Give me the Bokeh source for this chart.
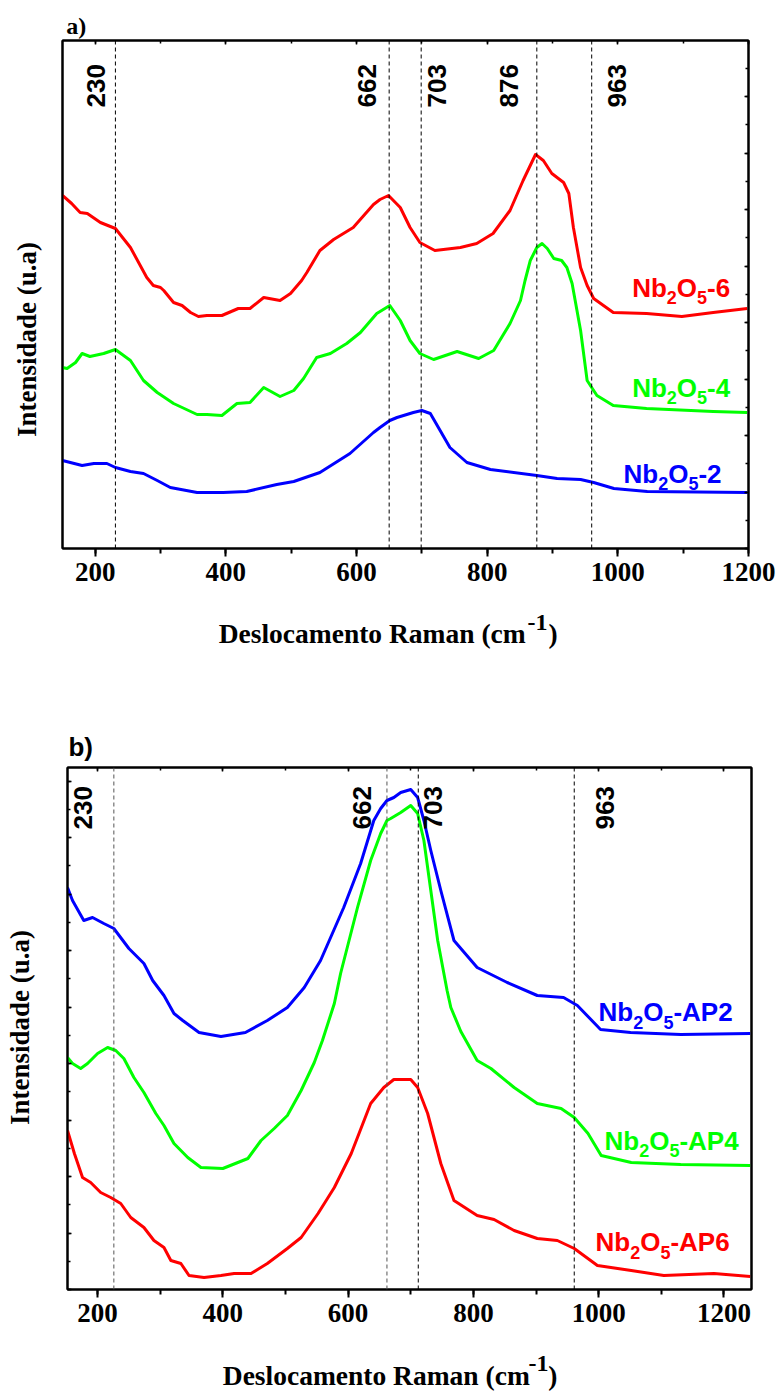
import math
from bokeh.plotting import figure
from bokeh.models import Range1d, LinearAxis, Span, Label, SingleIntervalTicker, FixedTicker
from bokeh.embed import file_html
from bokeh.resources import INLINE

# ---------------- data (panel a) ----------------
x_a6 = [150, 164, 177, 188, 208, 231, 254, 279, 289, 300, 305, 320, 333, 346, 358, 371, 394, 419, 437, 458,
        483, 499, 516, 524, 544, 565, 595, 626, 636, 649, 667, 682, 697, 720, 759, 784, 809, 835, 855, 874,
        886, 899, 917, 925, 932, 943, 953, 963, 993, 1044, 1098, 1146, 1198]
y_a6 = [353, 345, 336, 335, 326, 320, 301, 271, 263, 261, 258, 246, 243, 236, 232, 233, 233, 240, 240, 251,
        248, 255, 268, 276, 298, 309, 321, 344, 349, 353, 341, 321, 306, 298, 301, 305, 315, 338, 368, 394,
        388, 375, 366, 355, 321, 281, 263, 250, 236, 235, 232, 236, 240]

x_a4 = [150, 157, 170, 180, 192, 213, 231, 254, 274, 295, 320, 356, 371, 394, 417, 437, 458, 483, 504, 519,
        539, 560, 585, 606, 631, 651, 667, 682, 697, 718, 754, 787, 810, 835, 851, 858, 866, 876, 884, 892,
        902, 914, 922, 930, 943, 953, 968, 993, 1044, 1146, 1198]
y_a4 = [181, 180, 186, 195, 192, 195, 199, 188, 168, 156, 145, 134, 134, 133, 145, 146, 161, 152, 158, 170,
        191, 195, 205, 216, 235, 243, 228, 208, 195, 189, 197, 190, 198, 225, 248, 268, 288, 301, 305, 300,
        290, 288, 281, 265, 218, 168, 153, 143, 140, 137, 136]

x_a2 = [150, 180, 198, 218, 231, 254, 274, 295, 315, 356, 396, 432, 478, 504, 544, 590, 626, 636, 651, 662,
        687, 700, 713, 728, 743, 769, 805, 876, 907, 943, 963, 994, 1045, 1198]
y_a2 = [88, 83, 85, 85, 81, 77, 75, 68, 61, 56, 56, 57, 64, 67, 76, 95, 116, 121, 128, 131,
        136, 138, 135, 118, 101, 86, 79, 73, 70, 69, 66, 60, 57, 56]

peaks_a_pos = [231, 650, 699, 876, 960]
peaks_a_txt = ["230", "662", "703", "876", "963"]

# ---------------- data (panel b) ----------------
x_bAP2 = [152, 160, 178, 192, 210, 226, 250, 274, 288, 306, 322, 336, 362, 397, 436, 471, 503, 530, 556, 593,
          620, 641, 652, 662, 673, 684, 700, 711, 721, 732, 748, 769, 806, 854, 902, 944, 966, 1003, 1051,
          1131, 1242]
y_bAP2 = [402, 389, 369, 372, 366, 361, 341, 326, 309, 294, 276, 269, 257, 253, 257, 269, 282, 302, 329, 382,
          426, 469, 481, 489, 492, 497, 500, 492, 469, 439, 399, 349, 322, 307, 294, 292, 284, 260, 257,
          255, 256]

x_bAP4 = [152, 160, 173, 184, 200, 216, 229, 242, 258, 274, 293, 306, 322, 344, 365, 400, 440, 461, 482, 503,
          525, 546, 559, 578, 588, 615, 636, 652, 662, 668, 684, 700, 711, 721, 732, 743, 758, 764, 780, 806,
          828, 865, 902, 940, 961, 983, 1004, 1052, 1131, 1242]
y_bAP4 = [232, 226, 221, 226, 236, 242, 239, 231, 212, 197, 176, 164, 146, 132, 122, 121, 131, 149, 161, 174,
          199, 227, 249, 286, 316, 382, 429, 456, 469, 471, 477, 484, 476, 449, 399, 349, 299, 282, 258, 229,
          221, 202, 186, 181, 172, 156, 134, 127, 125, 124]

x_bAP6 = [152, 163, 176, 189, 205, 221, 237, 253, 274, 290, 306, 317, 333, 346, 370, 397, 418, 445, 471, 503,
          525, 552, 578, 605, 636, 657, 673, 700, 711, 727, 748, 769, 806, 833, 865, 902, 934, 961, 998, 1052,
          1104, 1184, 1242]
y_bAP6 = [159, 136, 112, 107, 97, 92, 86, 72, 62, 49, 42, 29, 26, 14, 12, 14, 16, 16, 26, 41,
          52, 76, 102, 136, 186, 202, 210, 210, 202, 176, 126, 89, 74, 70, 59, 51, 49, 41, 24, 19,
          14, 16, 13]

peaks_b_pos = [226, 662, 712, 961]
peaks_b_txt = ["230", "662", "703", "963"]

series_a = ["6", "4", "2"]
series_b = ["AP2", "AP4", "AP6"]

x_label = "Deslocamento Raman (cm"
x_label_sup = "-1"
x_label_end = ")"
y_label = "Intensidade (u.a)"

RED, GREEN, BLUE = "#FF0000", "#00FF00", "#0000FF"
SERIF = "Liberation Serif"
SANS = "Liberation Sans"

W_SANS_BOLD = {"N": 0.722, "b": 0.611, "O": 0.778, "-": 0.333, "A": 0.722, "P": 0.667}


def text_w(s, size):
    return sum(W_SANS_BOLD.get(c, 0.556) for c in s) * size


def add_text(p, text, sx, sy, size, font, color="black", angle=0.0, align="left",
             baseline="alphabetic", x_units="screen", xo=0):
    p.add_layout(Label(x=sx, y=sy, x_units=x_units, y_units="screen", text=text,
                       text_font=font, text_font_size=f"{size}px", text_font_style="bold",
                       text_color=color, angle=angle, text_align=align,
                       text_baseline=baseline, x_offset=xo))


def chem_label(p, suffix, sx, sy, color):
    parts = [("Nb", 26, 0), ("2", 18, -10), ("O", 26, 0), ("5", 18, -10), ("-" + suffix, 26, 0)]
    x = sx
    for t, s, dy in parts:
        add_text(p, t, x, sy + dy, s, SANS, color)
        x += text_w(t, s)


def text_axis(p, side, ticks, texts, size, font, standoff, vertical=False):
    ax = LinearAxis(ticker=FixedTicker(ticks=ticks, minor_ticks=[]),
                    major_label_overrides={t: s for t, s in zip(ticks, texts)},
                    axis_line_color=None, major_tick_line_color=None, minor_tick_line_color=None,
                    major_tick_in=0, major_tick_out=0, minor_tick_in=0, minor_tick_out=0,
                    major_label_text_font=font, major_label_text_font_size=f"{size}px",
                    major_label_text_font_style="bold", major_label_text_color="black",
                    major_label_standoff=standoff)
    if vertical:
        ax.major_label_orientation = "vertical"
    p.add_layout(ax, side)
    return ax


def plain_axis(ticker, tick_in, minor_in):
    return LinearAxis(ticker=ticker, major_label_text_font_size="0px",
                      major_label_text_color=None, major_label_standoff=0,
                      major_tick_in=tick_in, major_tick_out=0,
                      minor_tick_in=minor_in, minor_tick_out=0, axis_line_width=2,
                      major_tick_line_width=1.5, minor_tick_line_width=1.5)


def make_fig(xr, yr, fw, fh, left, right, top, bottom, left_ticks, right_ticks):
    p = figure(width=left + fw + right, height=top + fh + bottom, frame_width=fw, frame_height=fh,
               x_range=Range1d(*xr), y_range=Range1d(*yr), output_backend="svg",
               toolbar_location=None, title=None, y_axis_location=None,
               min_border_left=left, min_border_right=right,
               min_border_top=top, min_border_bottom=bottom)
    p.grid.visible = False
    p.outline_line_color = "black"
    p.outline_line_width = 2
    p.background_fill_color = "white"
    p.border_fill_color = "white"

    xa = p.xaxis[0]
    xa.ticker = SingleIntervalTicker(interval=200, num_minor_ticks=2)
    xa.axis_line_width = 2
    xa.major_tick_line_width = 2
    xa.minor_tick_line_width = 2
    xa.major_tick_in = 0
    xa.major_tick_out = 8
    xa.minor_tick_in = 0
    xa.minor_tick_out = 5
    xa.major_label_text_font = SERIF
    xa.major_label_text_font_style = "bold"
    xa.major_label_text_font_size = "27px"
    xa.major_label_text_color = "black"
    xa.major_label_standoff = 6

    yt = 56.5
    p.add_layout(plain_axis(SingleIntervalTicker(interval=yt, num_minor_ticks=2),
                            4 if left_ticks else 0, 3 if left_ticks else 0), "left")
    p.add_layout(plain_axis(SingleIntervalTicker(interval=200, num_minor_ticks=2), 4, 3), "above")
    p.add_layout(plain_axis(SingleIntervalTicker(interval=yt, num_minor_ticks=2),
                            4 if right_ticks else 0, 3 if right_ticks else 0), "right")
    return p


# ---------------- panel a ----------------
FL_A, FB_A = 62, 548          # frame left / bottom in page pixels (layout)
p1 = make_fig((150, 1200), (0, 508), 686, 508, 62, 30, 40, 142, False, True)

for pos in peaks_a_pos:
    p1.add_layout(Span(location=pos, dimension="height", line_color="black",
                       line_dash="4 3", line_width=1))

p1.line(x_a6, y_a6, line_color=RED, line_width=3, line_join="round")
p1.line(x_a4, y_a4, line_color=GREEN, line_width=3, line_join="round")
p1.line(x_a2, y_a2, line_color=BLUE, line_width=3, line_join="round")

offs_a = [-19, -22, 16, -28, 25]
for pos, txt, xo in zip(peaks_a_pos, peaks_a_txt, offs_a):
    add_text(p1, txt, pos, FB_A - 107, 26, SANS, angle=math.pi / 2, align="left",
             baseline="middle", x_units="data", xo=xo)

lab_a = [(631.7, 287.0, RED), (631.7, 387.3, GREEN), (623.0, 473.3, BLUE)]
for suf, (cx, cy, col) in zip(series_a, lab_a):
    chem_label(p1, suf, cx - FL_A, FB_A - cy, col)

# texts outside the frame, drawn as tick labels of extra axes
text_axis(p1, "above", [171], ["a)"], 24, SERIF, 2)
text_axis(p1, "left", [209], [y_label], 27, SERIF, 21, vertical=True)
text_axis(p1, "below", [624, 901], [x_label, x_label_end], 27.5, SERIF, 34)
text_axis(p1, "below", [877], [x_label_sup], 24, SERIF, -37)

# ---------------- panel b ----------------
FL_B, FB_B = 67, 1289 - 690
p2 = make_fig((152, 1244), (0, 522), 684, 522, 67, 27, 77, 109, True, False)

for pos, col in zip(peaks_b_pos, ["#555555", "#555555", "black", "black"]):
    p2.add_layout(Span(location=pos, dimension="height", line_color=col,
                       line_dash="4 3", line_width=1))

p2.line(x_bAP2, y_bAP2, line_color=BLUE, line_width=3, line_join="round")
p2.line(x_bAP4, y_bAP4, line_color=GREEN, line_width=3, line_join="round")
p2.line(x_bAP6, y_bAP6, line_color=RED, line_width=3, line_join="round")

offs_b = [-31, -25, 15, 31]
for pos, txt, xo in zip(peaks_b_pos, peaks_b_txt, offs_b):
    add_text(p2, txt, pos, FB_B - (829 - 690), 26, SANS, angle=math.pi / 2, align="left",
             baseline="middle", x_units="data", xo=xo)

lab_b = [(598.0, 1011.7, BLUE), (604.0, 1140.0, GREEN), (595.0, 1241.7, RED)]
for suf, (cx, cy, col) in zip(series_b, lab_b):
    chem_label(p2, suf, cx - FL_B, FB_B - (cy - 690), col)

text_axis(p2, "above", [173], ["b)"], 26, SANS, 6)
text_axis(p2, "left", [262], [y_label], 27, SERIF, 33, vertical=True)
text_axis(p2, "below", [645, 927], [x_label, x_label_end], 27.5, SERIF, 35)
text_axis(p2, "below", [904], [x_label_sup], 24, SERIF, -38)

open("out.html", "w").write(file_html([p1, p2], INLINE))
